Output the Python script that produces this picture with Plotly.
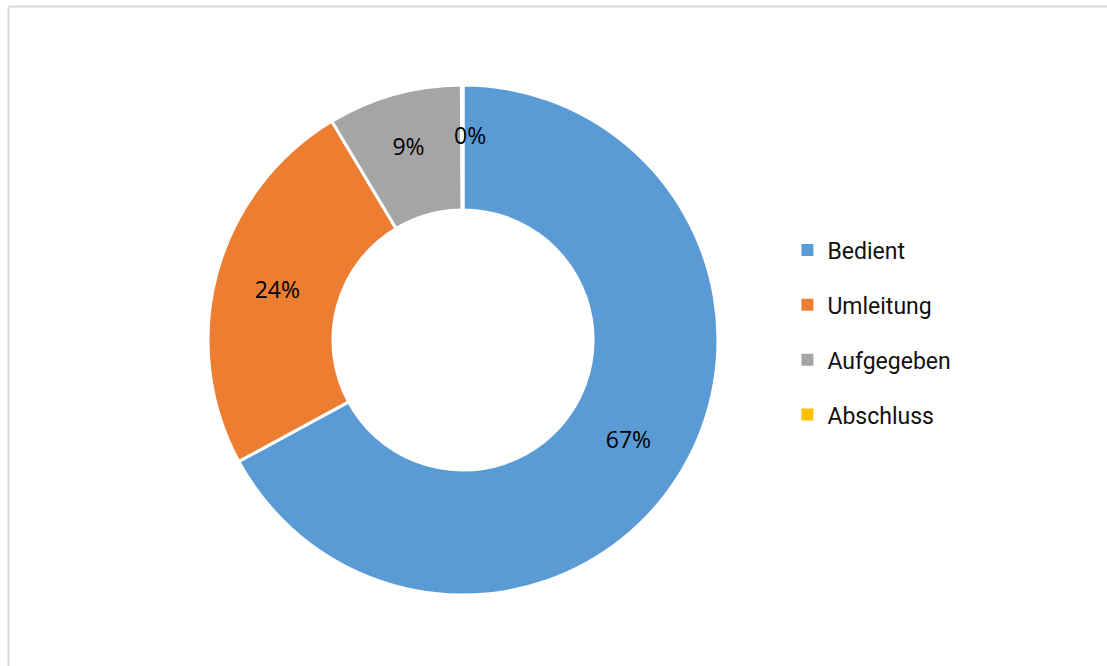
import math
import plotly.graph_objects as go

# Anteile der Anrufe nach Ergebnis
categories = ["Bedient", "Umleitung", "Aufgegeben", "Abschluss"]
values = [67.1, 24.3, 8.5, 0.1]
colors = ["#5B9BD5", "#ED7D31", "#A5A5A5", "#FFC000"]

W, H = 1107, 666
cx, cy, r = 463, 340, 255  # donut centre and outer radius in pixels
hole = 0.51

total = sum(values)
# slices too thin for an inside label get an annotation instead
small = [v / total < 0.01 for v in values]

fig = go.Figure()

fig.add_trace(go.Pie(
    labels=categories,
    values=values,
    marker=dict(colors=colors, line=dict(color="white", width=3)),
    hole=hole,
    sort=False,
    direction="clockwise",
    rotation=0,
    texttemplate="%{percent:.0%}",
    textposition=["none" if s else "inside" for s in small],
    insidetextorientation="horizontal",
    textfont=dict(family="Open Sans, sans-serif", size=23, color="black"),
    showlegend=False,
    hoverinfo="label+percent",
    domain=dict(x=[(cx - r) / W, (cx + r) / W],
                y=[(H - cy - r) / H, (H - cy + r) / H]),
))

# label for thin slices, placed at the slice's mid angle on the ring centre line
cum = 0.0
rm = r * (1 + hole) / 2
for v, s in zip(values, small):
    mid = (cum + v / 2) / total * 2 * math.pi
    cum += v
    if not s:
        continue
    px = cx + rm * math.sin(mid)
    py = cy - rm * math.cos(mid)
    fig.add_annotation(
        x=px / W, y=(H - py) / H, xref="paper", yref="paper",
        xanchor="center", yanchor="middle",
        text=f"{v / total:.0%}", showarrow=False,
        xshift=8, yshift=12,
        font=dict(family="Open Sans, sans-serif", size=23, color="black"),
    )

# Legend entries: one group per category so the rows can be spaced apart
for name, col in zip(categories, colors):
    fig.add_trace(go.Scatter(
        x=[None], y=[None], mode="markers", name=name,
        legendgroup=name,
        marker=dict(symbol="square", size=9, color=col),
    ))

fig.update_layout(
    width=W, height=H,
    margin=dict(l=0, r=0, t=0, b=0),
    paper_bgcolor="white",
    plot_bgcolor="white",
    xaxis=dict(visible=False),
    yaxis=dict(visible=False),
    legend=dict(
        x=0.7113, y=0.657, xanchor="left", yanchor="top",
        font=dict(family="Roboto, sans-serif", size=23, color="#111111"),
        tracegroupgap=22,
        itemsizing="constant",
        bgcolor="rgba(0,0,0,0)",
    ),
    shapes=[
        # chart frame (left and top edges)
        dict(type="line", xref="paper", yref="paper",
             x0=8.5 / W, x1=8.5 / W, y0=0, y1=(H - 6.5) / H,
             line=dict(color="#D9D9D9", width=2)),
        dict(type="line", xref="paper", yref="paper",
             x0=8.5 / W, x1=1, y0=(H - 6.5) / H, y1=(H - 6.5) / H,
             line=dict(color="#D9D9D9", width=2)),
    ],
)

fig.write_html("out.html")
